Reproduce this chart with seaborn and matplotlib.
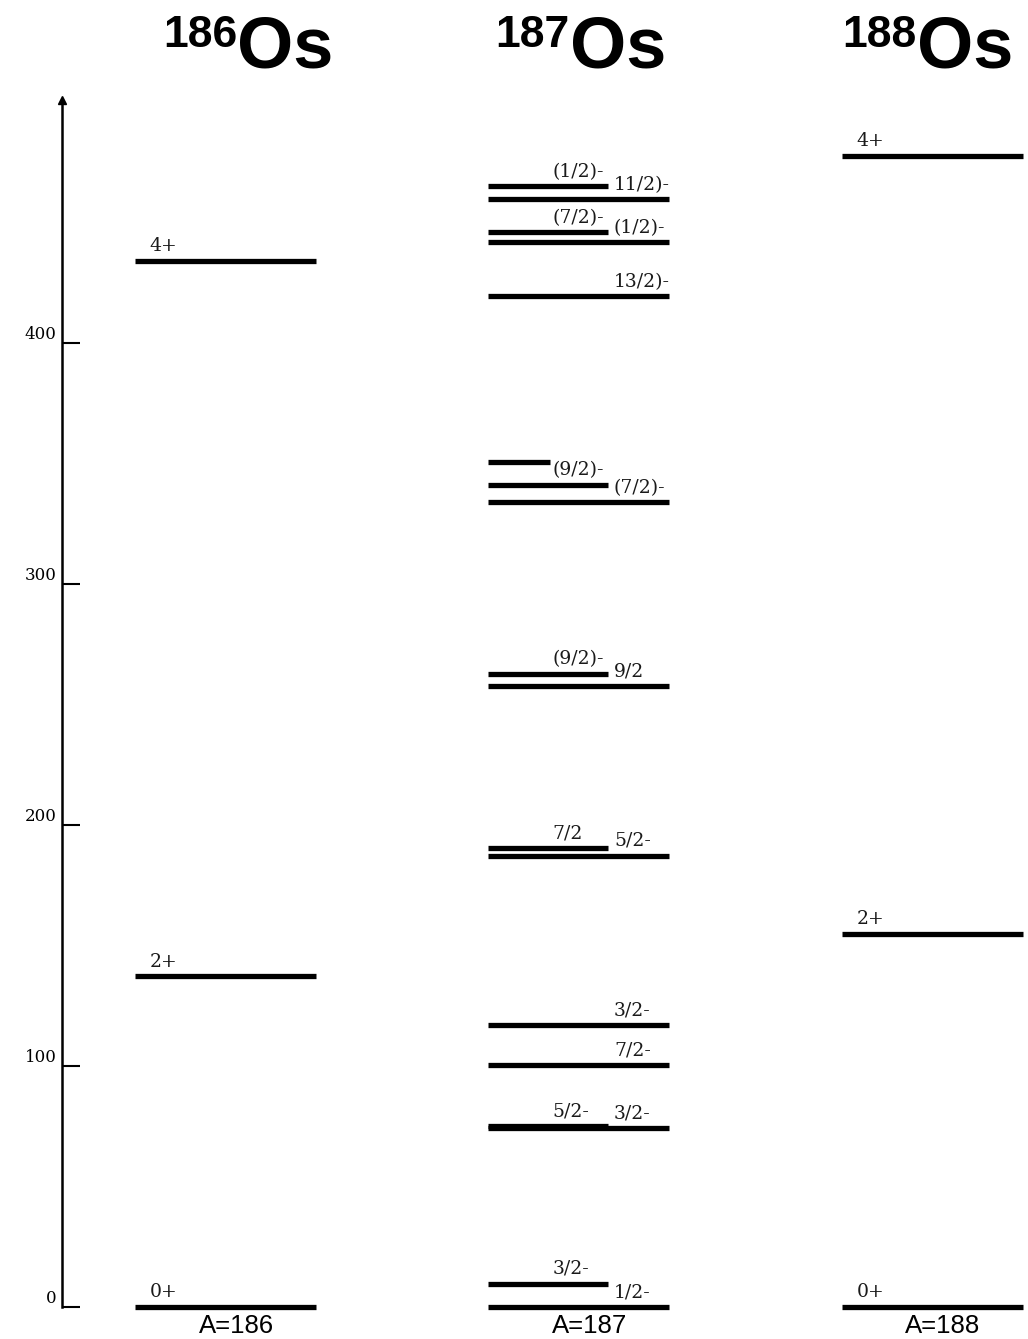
import numpy as np
import pandas as pd
import matplotlib
matplotlib.use("Agg")
import matplotlib.pyplot as plt
import matplotlib.transforms as mtransforms
import seaborn as sns

# ---- level data (keV) ----
isotopes = ["186", "187", "188"]

e186 = [0.0, 137.2, 434.3]
j186 = ["0+", "2+", "4+"]

e187 = [0.0, 9.75, 74.4, 75.0, 100.5, 116.9, 187.4, 190.6, 257.9, 262.9,
        334.0, 341.4, 350.6, 419.5, 442.0, 446.1, 459.8, 465.2]
j187 = ["1/2-", "3/2-", "3/2-", "5/2-", "7/2-", "3/2-", "5/2-", "7/2", "9/2",
        "(9/2)-", "(7/2)-", "(9/2)-", "", "13/2)-", "(1/2)-", "(7/2)-",
        "11/2)-", "(1/2)-"]
# sub-column of each 187Os level: R = full width, L = short, S = shortest
slot187 = ["R", "L", "R", "L", "R", "R", "R", "L", "R", "L",
           "R", "L", "S", "R", "R", "L", "R", "L"]

e188 = [0.0, 155.0, 477.9]
j188 = ["0+", "2+", "4+"]

yticks = [0, 100, 200, 300, 400]

levels = pd.concat([
    pd.DataFrame({"iso": "186", "energy": e186, "spin": j186, "slot": "F"}),
    pd.DataFrame({"iso": "187", "energy": e187, "spin": j187, "slot": slot187}),
    pd.DataFrame({"iso": "188", "energy": e188, "spin": j188, "slot": "F"}),
], ignore_index=True)
levels["col"] = levels["iso"].map({k: i for i, k in enumerate(isotopes)})

# ---- geometry of the level bars (in column units) ----
half = 0.256
right_end = {"F": half, "R": half, "L": 0.082, "S": -0.082}
label_x = {"F": -half + 0.042, "R": 0.099, "L": -0.074, "S": -0.2}

sns.set_theme(style="ticks")
plt.rcParams["font.family"] = ["DejaVu Serif"]
plt.rcParams["text.color"] = "black"
plt.rcParams["ytick.color"] = "black"
plt.rcParams["ytick.labelcolor"] = "black"

W, H = 1028, 1339
fig = plt.figure(figsize=(W / 100, H / 100), dpi=100)
ax = fig.add_axes([62 / W, 32 / H, (W - 62) / W, (1307 - 100) / H])
ax.set_xlim(-0.4625, 2.2705)
ax.set_ylim(0, 501)

x0 = levels["col"] - half
x1 = levels["col"] + levels["slot"].map(right_end)
ax.hlines(levels["energy"], x0, x1, colors="black", linewidth=3.8,
          clip_on=False)

for _, r in levels.iterrows():
    if r["spin"]:
        ax.annotate(r["spin"], (r["col"] + label_x[r["slot"]], r["energy"]),
                    xytext=(0, 4), textcoords="offset points",
                    ha="left", va="bottom", fontsize=13.5,
                    family="DejaVu Serif", color="#1a1a1a")

# ---- axis styling ----
sns.despine(ax=ax, bottom=True)
ax.spines["left"].set_linewidth(1.8)
ax.spines["left"].set_color("black")
ax.set_xticks([])
ax.set_yticks(yticks)
ax.set_yticklabels([str(t) for t in yticks])
ax.tick_params(axis="y", direction="in", length=13, width=1.5, pad=4,
               labelsize=12, colors="black")
for lab in ax.get_yticklabels():
    lab.set_verticalalignment("bottom")
    lab.set_family("DejaVu Serif")
ax.plot([0], [1], marker="^", ms=6, color="black", transform=ax.transAxes,
        clip_on=False)
ax.grid(False)
ax.set_facecolor("white")

# ---- nuclide names above, mass numbers below ----
title_dx = [0.033, -0.026, -0.044]
tr = mtransforms.blended_transform_factory(ax.transData, fig.transFigure)
for i, iso in enumerate(isotopes):
    xj = i + title_dx[i]
    fig.text(xj, 1 - 68 / H, "Os", transform=tr, ha="left", va="baseline",
             fontsize=52, fontweight="bold", family="Liberation Sans",
             color="black")
    fig.text(xj, 1 - 47 / H, iso, transform=tr, ha="right", va="baseline",
             fontsize=32, fontweight="bold", family="Liberation Sans",
             color="black")
    fig.text(i + 0.03, 1 - 1333 / H, f"A={iso}", transform=tr, ha="center",
             va="baseline", fontsize=18.5, family="Liberation Sans",
             color="black")

fig.savefig("out.png", dpi=100, facecolor="white")
